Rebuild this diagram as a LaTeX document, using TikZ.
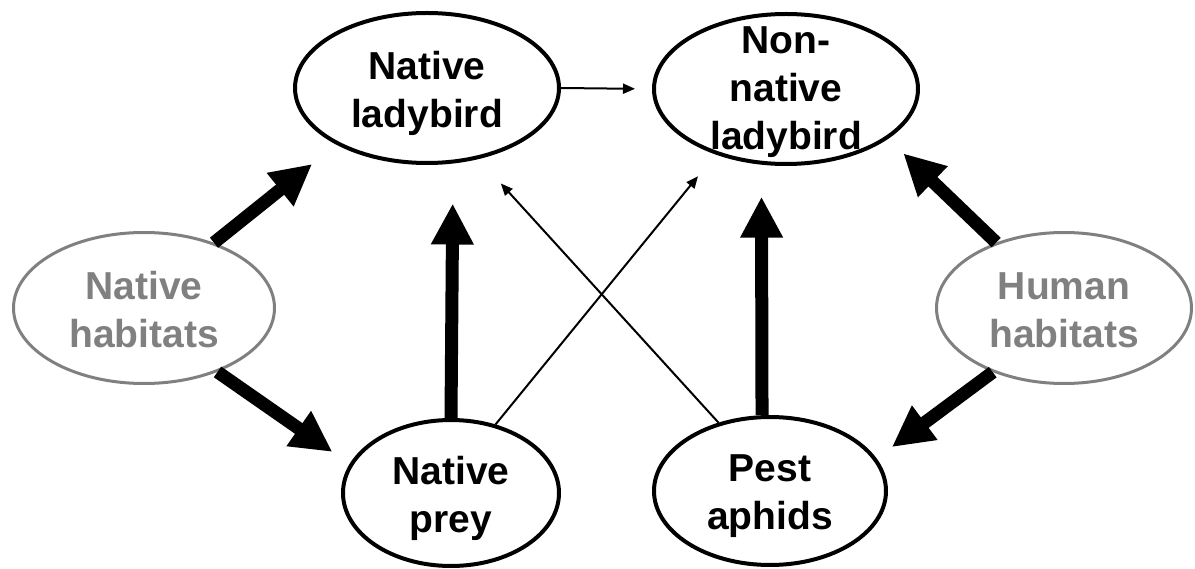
\documentclass[tikz,border=0pt]{standalone}
\usepackage{fontspec}
\setmainfont{Liberation Sans}
\usetikzlibrary{arrows.meta,shapes.geometric}
\definecolor{grayc}{RGB}{128,128,128}
\begin{document}
\begin{tikzpicture}[x=1pt,y=-1pt,
  ell/.style={ellipse, draw=black, line width=4pt, inner sep=0pt},
  gell/.style={ellipse, draw=grayc, line width=3pt, inner sep=0pt},
  lab/.style={align=center, font=\fontsize{39pt}{48pt}\selectfont\bfseries, inner sep=0pt},
  glab/.style={lab, text=grayc},
  big/.style={line width=13pt, -{Triangle[length=41pt,width=40pt]}},
  thin/.style={line width=2pt, -{Triangle[length=12pt,width=10pt]}}]
\useasboundingbox (0,0) rectangle (1195,569);
\node[ell, minimum width=264pt, minimum height=150pt,
  label={[lab,yshift=-5pt]center:{Native\\ladybird}}] (nl) at (427,88) {};
\node[ell, minimum width=264pt, minimum height=150pt,
  label={[lab,yshift=-3pt]center:{Non-\\native\\ladybird}}] (nn) at (786,89) {};
\node[gell, minimum width=261pt, minimum height=151pt,
  label={[glab,yshift=-2pt]center:{Native\\habitats}}] (nh) at (144,308) {};
\node[gell, minimum width=255pt, minimum height=151pt,
  label={[glab,yshift=-2pt]center:{Human\\habitats}}] (hh) at (1064,308) {};
\node[ell, minimum width=216pt, minimum height=146pt,
  label={[lab,yshift=-5pt]center:{Native\\prey}}] (np) at (451,493) {};
\node[ell, minimum width=232pt, minimum height=148pt,
  label={[lab,yshift=-5pt]center:{Pest\\aphids}}] (pa) at (770,491) {};
% thick arrows
\draw[big, shorten >=31pt] (nh.43) -- (nl.212);
\draw[big, shorten >=21pt] (nh.-41) -- (np.164);
\draw[big, shorten >=21pt] (hh.136) -- (nn.-26);
\draw[big, shorten >=19pt] (hh.222.5) -- (pa.17);
\draw[big, shorten >=40pt] (np.north) -- (nl.-71.5);
\draw[big, shorten >=32pt] (pa.96.8) -- (nn.-108.5);
% thin arrows
\draw[thin, shorten >=17pt] (nl.east) -- (nn.west);
\draw[thin, shorten >=28pt] (np.57.8) -- (nn.223.8);
\draw[thin, shorten >=33pt] (pa.127.9) -- (nl.-54.3);
\end{tikzpicture}
\end{document}
